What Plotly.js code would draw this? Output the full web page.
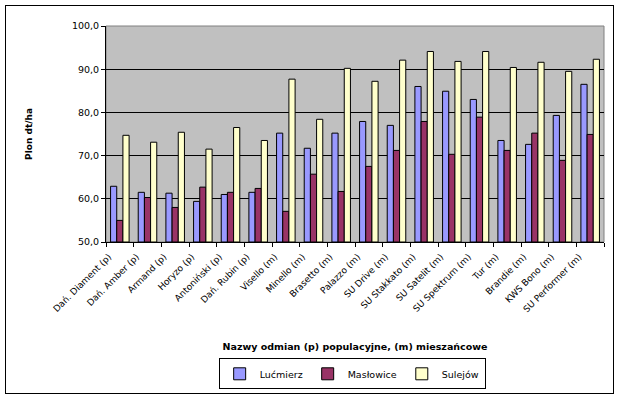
<!DOCTYPE html>
<html>
<head>
<meta charset="utf-8">
<script src="https://cdn.plot.ly/plotly-3.0.1.min.js"></script>
<style>
html,body{margin:0;padding:0;background:#fff;}
#wrap{position:relative;width:620px;height:399px;}
#chart{position:absolute;left:0;top:0;width:620px;height:399px;}
#frame{position:absolute;left:5px;top:5px;width:607px;height:387px;border:1px solid #000;pointer-events:none;}
</style>
</head>
<body>
<div id="wrap"><div id="chart"></div><div id="frame"></div></div>
<script>
const categories = ["Dań. Diament (p)","Dań. Amber (p)","Armand (p)","Horyzo (p)","Antoniński (p)","Dań. Rubin (p)","Visello (m)","Minello (m)","Brasetto (m)","Palazzo (m)","SU Drive (m)","SU Stakkato (m)","SU Satelit (m)","SU Spektrum (m)","Tur (m)","Brandie (m)","KWS Bono (m)","SU Performer (m)"];
const lucmierz  = [62.9,61.5,61.3,59.4,61.0,61.5,75.2,71.7,75.2,77.9,77.0,86.0,84.9,83.0,73.5,72.6,79.3,86.5];
const maslowice = [55.0,60.3,58.0,62.7,61.5,62.4,57.1,65.7,61.7,67.5,71.2,77.9,70.3,78.9,71.2,75.2,68.9,74.9];
const sulejow   = [74.7,73.1,75.4,71.5,76.5,73.5,87.7,78.4,90.2,87.2,92.1,94.1,91.8,94.1,90.4,91.6,89.5,92.3];
const seriesNames = ["Lućmierz","Masłowice","Sulejów"];
const yTicks = [50,60,70,80,90,100];

const colors = ["#9999FF","#993366","#FFFFCC"];
const data = [lucmierz, maslowice, sulejow].map((vals,i)=>({
  type:"bar", name:seriesNames[i], x:categories, y:vals.map(v=>v-50), base:50,
  marker:{color:colors[i], line:{color:"#000", width:1}},
  hoverinfo:"skip"
}));

const F = "DejaVu Sans, Verdana, sans-serif";
const layout = {
  width:620, height:399,
  margin:{l:106, r:16, t:26, b:157, pad:0},
  paper_bgcolor:"#fff", plot_bgcolor:"#C0C0C0",
  font:{family:F, size:9, color:"#000"},
  barmode:"group", bargap:0.33, bargroupgap:0,
  showlegend:true,
  legend:{orientation:"h", xref:"container", yref:"container", x:0.568, xanchor:"center", y:0.102, yanchor:"top",
    bordercolor:"#000", borderwidth:1, bgcolor:"#fff",
    font:{family:F, size:9.5, color:"#000"},
    itemwidth:30, traceorder:"normal", tracegroupgap:0},
  xaxis:{type:"category", tickangle:-45, tickson:"boundaries", ticks:"outside", ticklen:4,
    tickcolor:"#000", showline:true, linecolor:"#000", linewidth:1, showgrid:false,
    tickfont:{family:F, size:9, color:"#000"}, ticklabelshift:-11, ticklabelstandoff:5,
    automargin:false,
    title:{text:"Nazwy odmian (p) populacyjne, (m) mieszańcowe", standoff:30,
      font:{family:F, size:9.5, color:"#000", weight:"bold"}}},
  yaxis:{range:[50,100], tickvals:yTicks, tickformat:".1f", ticks:"outside", ticklen:4,
    tickcolor:"#000", showline:true, linecolor:"#000", linewidth:1,
    showgrid:true, gridcolor:"#000", gridwidth:1, zeroline:false, automargin:false,
    tickfont:{family:F, size:9.5, color:"#000"},
    title:{text:"Plon dt/ha", standoff:37,
      font:{family:F, size:9, color:"#000", weight:"bold"}}},
  separators:",.",
  shapes:[{type:"rect", xref:"paper", yref:"paper", x0:0, x1:1, y0:0, y1:1,
    line:{color:"#808080", width:1}, layer:"below"}]
};
Plotly.newPlot("chart", data, layout, {displayModeBar:false, staticPlot:true});
</script>
</body>
</html>
